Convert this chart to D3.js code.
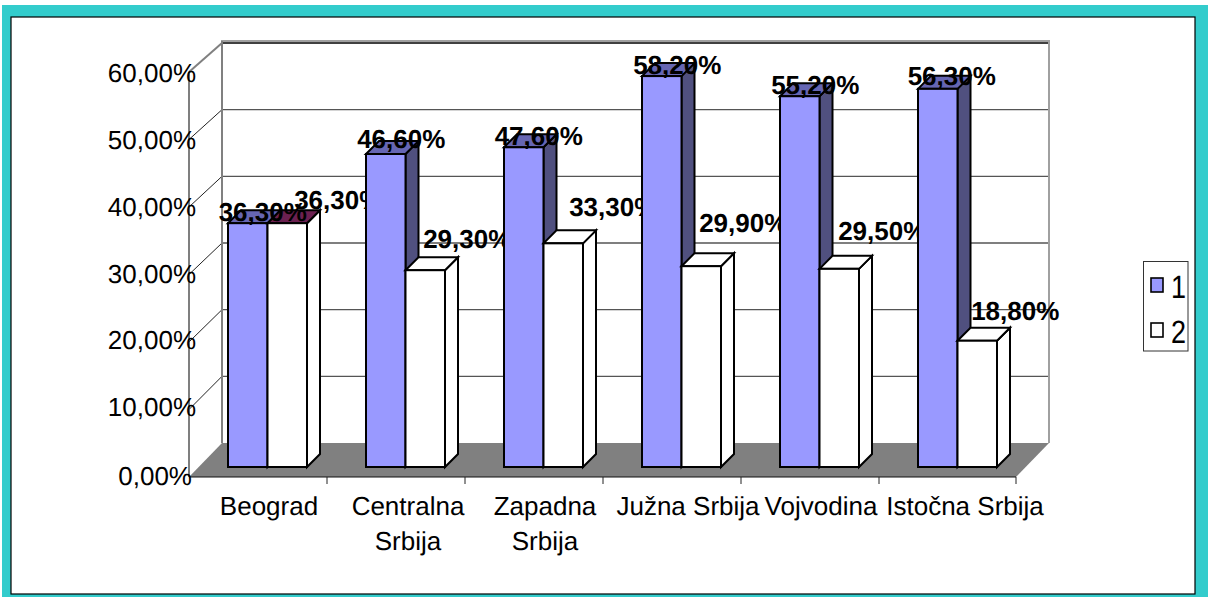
<!DOCTYPE html>
<html><head><meta charset="utf-8">
<script src="https://cdn.jsdelivr.net/npm/d3@7/dist/d3.min.js"></script>
<style>html,body{margin:0;padding:0;background:#fff}svg{display:block}text{font-family:"Liberation Sans",Arial,sans-serif;fill:#000;text-rendering:geometricPrecision}</style>
</head><body><svg id="c" width="1210" height="597"></svg>
<script>
const categories = [["Beograd"],["Centralna","Srbija"],["Zapadna","Srbija"],["Južna Srbija"],["Vojvodina"],["Istočna Srbija"]];
const series1 = [36.3,46.6,47.6,58.2,55.2,56.3];
const series2 = [36.3,29.3,33.3,29.9,29.5,18.8];
const seriesNames = ["1","2"];
const yTicks = [0,10,20,30,40,50,60];
const fmt = v => v.toFixed(2).replace(".",",")+"%";

const svg = d3.select("#c");
const teal="#33cccc", blue="#9999ff", blueSide="#50507f", blueTop="#6666b3", maroon="#6b2050", grey="#808080";
// frame
svg.append("rect").attr("x",2).attr("y",5).attr("width",1206).attr("height",592).attr("fill",teal);
svg.append("rect").attr("x",11).attr("y",17).attr("width",1184).attr("height",577).attr("fill","#fff").attr("stroke","#000").attr("stroke-width",1.2);

const x = d3.scaleBand().domain(d3.range(categories.length)).range([189,1017]);
const hWall = d3.scaleLinear().domain([0,60]).range([0,400]);
const hFront = d3.scaleLinear().domain([0,60]).range([0,405]);
const hBar = d3.scaleLinear().domain([0,60]).range([0,403]);
const hLabel = d3.scaleLinear().domain([0,60]).range([0,401]);
const frontY=477, wallDx=33, wallDy=-34, barBase=467, barDepth=13;
const barGap=39, barW=39.5;
const wallL=189+wallDx, wallR=1016+wallDx, wallB=frontY+wallDy;
const wallTop=wallB-hWall(60);

// wall gridlines and side-wall diagonals
yTicks.forEach(t=>{
  const yw=wallB-hWall(t), yf=frontY-hFront(t);
  if(t>0) svg.append("line").attr("x1",wallL).attr("x2",wallR).attr("y1",yw).attr("y2",yw)
    .attr("stroke",t===60?"#000":"#555").attr("stroke-width",1.3);
  if(t>0) svg.append("line").attr("x1",189).attr("y1",yf).attr("x2",wallL).attr("y2",yw)
    .attr("stroke",t===60?grey:"#222").attr("stroke-width",t===60?2:1);
});
svg.append("line").attr("x1",wallL-1).attr("x2",wallR+1).attr("y1",wallTop-2).attr("y2",wallTop-2).attr("stroke","#a0a0a0").attr("stroke-width",2);
svg.append("line").attr("x1",wallL).attr("x2",wallL).attr("y1",wallTop-2).attr("y2",wallB).attr("stroke",grey).attr("stroke-width",2);
svg.append("line").attr("x1",wallR).attr("x2",wallR).attr("y1",wallTop-2).attr("y2",wallB).attr("stroke","#a0a0a0").attr("stroke-width",2);
// floor
svg.append("polygon").attr("points",[[189,frontY],[wallL,wallB],[wallR,wallB],[1016,frontY]].join(" ")).attr("fill",grey);
// axes
svg.append("line").attr("x1",189).attr("x2",189).attr("y1",frontY-hFront(60)).attr("y2",frontY).attr("stroke","#555").attr("stroke-width",1.5);
svg.append("line").attr("x1",189).attr("x2",1016).attr("y1",frontY).attr("y2",frontY).attr("stroke","#111").attr("stroke-width",1.2);
d3.range(1,7).forEach(i=>{
  const px=Math.min(x(i-1)+x.bandwidth(),1016);
  svg.append("line").attr("x1",px).attr("x2",px).attr("y1",frontY).attr("y2",frontY+7).attr("stroke","#222").attr("stroke-width",1);
});
// y tick labels
yTicks.forEach(t=>{
  svg.append("text").attr("x",t===0?192:196).attr("y",frontY-hLabel(t)+(t===0?8:6)).attr("text-anchor","end")
    .attr("font-size",26).text(fmt(t));
});
// x labels
const catNudge=[11,12,11,16,11,17];
categories.forEach((lines,i)=>{
  const t=svg.append("text").attr("text-anchor","middle").attr("font-size",26);
  lines.forEach((s,j)=>t.append("tspan").attr("x",x(i)+x.bandwidth()/2+catNudge[i]).attr("y",515+j*35).text(s));
});

function bar(x0,val,front,top,side){
  const y0=barBase-hBar(val), g=svg.append("g").attr("stroke","#000").attr("stroke-width",2).attr("stroke-linejoin","miter");
  g.append("polygon").attr("points",[[x0+barW,y0],[x0+barW+barDepth,y0-barDepth],[x0+barW+barDepth,barBase-barDepth],[x0+barW,barBase]].join(" ")).attr("fill",side);
  g.append("polygon").attr("points",[[x0,y0],[x0+barDepth,y0-barDepth],[x0+barW+barDepth,y0-barDepth],[x0+barW,y0]].join(" ")).attr("fill",top);
  g.append("rect").attr("x",x0).attr("y",y0).attr("width",barW).attr("height",hBar(val)).attr("fill",front);
}
function label(cx,val,dx,dy){
  svg.append("text").attr("x",cx+dx).attr("y",barBase-hBar(val)+dy).attr("text-anchor","middle")
    .attr("font-size",26).attr("font-weight","bold").text(fmt(val));
}
// bars + labels, group by group so later bars hide earlier labels
const s1Nudge=[[15,-2.5],[15.5,-6],[15,-2.7],[15.5,-2.5],[15.5,-2.7],[14,-3.7]];
const s2Nudge=[[51,-14],[42,-22],[50,-27],[42,-34],[43,-29],[38,-21]];
categories.forEach((_,i)=>{
  const a=x(i)+barGap, b=a+barW;
  bar(a,series1[i],blue,blueTop,blueSide);
  bar(b,series2[i],"#fff",i===0?maroon:"#fff","#fff");
  label(a+barW/2,series1[i],s1Nudge[i][0],s1Nudge[i][1]);
  label(b+barW/2,series2[i],s2Nudge[i][0],s2Nudge[i][1]);
});
// legend
svg.append("rect").attr("x",1143.5).attr("y",261.5).attr("width",44.5).attr("height",89.5).attr("fill","#fff").attr("stroke","#333").attr("stroke-width",1);
seriesNames.forEach((n,i)=>{
  const cy=285+i*45;
  svg.append("rect").attr("x",1151).attr("y",cy-7).attr("width",12).attr("height",14).attr("fill",i?"#fff":blue).attr("stroke","#000").attr("stroke-width",1.6);
  svg.append("text").attr("transform",`translate(1178.5,${cy+13}) scale(1,1.2)`).attr("text-anchor","middle").attr("font-size",27).text(n);
});
</script></body></html>
